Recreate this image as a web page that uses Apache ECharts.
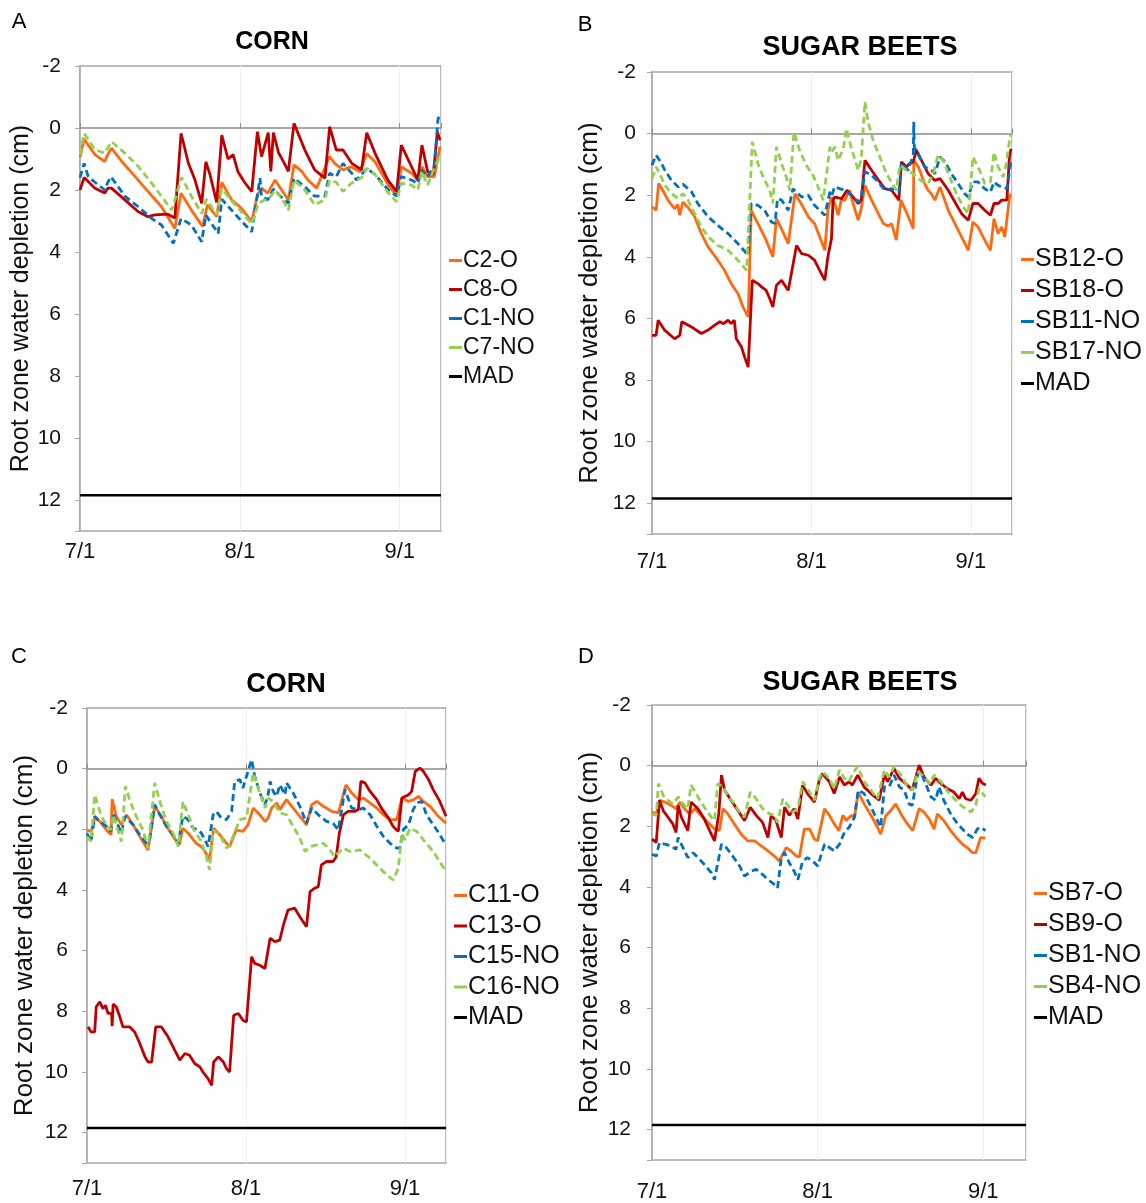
<!DOCTYPE html>
<html>
<head>
<meta charset="utf-8">
<title>Root zone water depletion</title>
<script src="https://cdn.jsdelivr.net/npm/echarts@6/dist/echarts.min.js"></script>
<style>
html,body{margin:0;padding:0;background:#fff;}
#chart{width:1146px;height:1203px;}
</style>
</head>
<body>
<div id="chart"></div>
<script>
// x = days after 7/1, y = root zone water depletion (cm)

// A - corn
var c2o = [[0,0.94],[0.8,0.36],[2.9,0.86],[4.8,1.08],[5.4,0.86],[6.1,0.65],[8.1,1.08],[10.7,1.57],[13.2,2.05],[15.8,2.54],[18.4,3.24],[19.6,2.1],[21.6,2.65],[23.8,3.18],[24.7,2.48],[26.5,2.86],[27.5,1.76],[29.4,2.32],[31.3,2.59],[33.3,3.02],[34.4,2.16],[35.2,1.94],[36.4,2.1],[37.8,1.68],[39.1,2.0],[40.4,2.32],[41.5,1.19],[43,1.4],[44.2,1.68],[45.9,1.94],[48.4,0.92],[49.4,1.14],[51,1.35],[52.5,1.25],[54.3,1.41],[55.6,0.82],[57.2,1.09],[59.8,1.84],[61.4,2.2],[62.3,1.25],[64.3,1.46],[65.5,1.68],[66.3,1.25],[67.4,1.57],[68.7,1.57],[69.8,0.6]];
var c8o = [[0,2.0],[0.8,1.6],[2.9,1.94],[4.8,2.1],[5.4,1.94],[6.1,1.94],[8.7,2.32],[11.3,2.7],[13.2,2.86],[14.5,2.8],[17,2.78],[18.4,2.9],[19.6,0.17],[21,1.13],[22.3,1.68],[23.6,2.43],[24.4,1.09],[25.2,1.5],[26.5,2.4],[27.5,0.23],[28.7,1.0],[29.7,0.86],[30.6,1.4],[31.9,1.75],[33.3,2.05],[34.4,0.12],[35.2,0.92],[36.5,0.15],[37.0,1.4],[37.5,0.15],[38.5,0.8],[39.5,1.1],[40.4,1.4],[41.5,-0.15],[43.6,0.71],[45.5,1.35],[47.5,1.62],[48.4,-0.04],[49.7,0.71],[51,0.71],[52.7,1.14],[54.6,1.35],[55.6,0.15],[57.2,0.81],[59.7,1.68],[61.4,2.05],[62.3,0.55],[64.3,1.25],[65.5,1.68],[66.3,0.55],[67.4,1.4],[68.5,1.5],[69.3,0.12],[69.8,0.4]];
var c1no = [[0,1.6],[0.8,1.14],[1.6,1.57],[2.9,1.75],[4.8,2.0],[5.4,1.75],[6.0,1.57],[8.7,2.2],[11.3,2.54],[13.9,2.92],[15.8,3.13],[18.1,3.72],[19.6,2.92],[21.6,3.13],[23.6,3.67],[24.4,2.81],[26.8,3.4],[27.5,2.3],[29.4,2.65],[31.3,3.0],[33.3,3.35],[34.9,1.62],[35.2,2.2],[36.4,2.32],[37.5,1.97],[38.9,2.2],[40.4,2.43],[41.5,1.62],[43.6,1.9],[45.5,2.2],[47.5,2.2],[48.4,1.46],[49.7,1.57],[51,1.14],[52.7,1.46],[53.6,1.68],[54.6,1.5],[55.6,1.3],[57.2,1.5],[59.8,2.0],[61.4,2.2],[62.3,1.57],[64.3,1.68],[65.5,1.79],[66.3,1.35],[67.4,1.57],[68.7,1.25],[69.4,-0.26],[69.8,-0.48]];
var c7no = [[0,0.86],[0.8,0.17],[2.9,0.7],[4.8,0.81],[6.1,0.44],[8.7,0.81],[11.3,1.24],[13.9,1.78],[15.8,2.2],[17.8,2.65],[19.7,1.59],[21.6,2.2],[23.6,2.76],[24.5,2.3],[26.5,2.8],[27.5,1.95],[29.4,2.35],[31.3,2.7],[33.3,3.1],[34.6,2.43],[35.5,2.35],[37,2.2],[37.8,2.0],[39.1,2.25],[40.4,2.65],[41.5,1.68],[43.6,2.0],[45.5,2.48],[47.5,2.3],[48.4,1.68],[49.7,1.75],[51,2.05],[52.5,1.8],[54.6,1.6],[55.6,1.3],[57.2,1.5],[59.8,2.1],[61.4,2.38],[62.3,1.78],[64.3,1.84],[65.5,2.0],[66.3,1.4],[67.4,1.84],[68.7,1.3],[69.8,0.92]];

// B - sugar beets
var sb12o = [[0,2.38],[0.8,2.49],[1.3,1.62],[2.1,1.84],[3.1,2.16],[4.4,2.44],[5.0,2.3],[5.4,2.65],[6.0,2.22],[7.0,2.4],[8.3,2.7],[9.6,3.25],[10.9,3.68],[12.8,4.11],[14.1,4.44],[15.4,4.87],[16.7,5.19],[17.7,5.63],[18.7,5.95],[19.3,2.49],[20.6,2.92],[21.9,3.35],[23.5,4.0],[24.2,2.76],[25.2,3.1],[26.5,3.57],[27.8,1.95],[29.1,2.3],[30.4,2.7],[31.6,2.92],[32.6,3.35],[33.6,3.79],[34.2,2.49],[34.9,2.06],[35.6,2.3],[36.2,2.65],[36.8,2.16],[37.5,2.16],[38.4,1.84],[39.1,2.27],[40.1,2.81],[40.7,2.42],[41.4,1.68],[42.7,2.16],[44.0,2.6],[45,2.92],[45.9,3.0],[46.6,2.92],[47.5,3.46],[48.4,2.16],[49.6,2.6],[50.8,3.08],[50.9,0.87],[51.8,1.08],[53.0,1.62],[53.7,1.84],[54.3,1.95],[55.0,2.16],[56.0,1.73],[57.6,2.49],[58.9,2.92],[60.2,3.35],[61.5,3.79],[62.4,2.87],[63.4,3.03],[64.7,3.46],[65.8,3.79],[66.5,2.76],[67.3,3.25],[68.0,3.03],[68.6,3.35],[69.6,1.95]];
var sb18o = [[0,6.55],[0.8,6.55],[1.2,6.06],[2.5,6.39],[4.4,6.66],[5.4,6.55],[5.8,6.11],[7.7,6.28],[9.6,6.49],[10.9,6.38],[12.2,6.22],[13.2,6.11],[13.9,6.17],[14.8,6.06],[15.4,6.17],[16.0,6.06],[16.4,6.66],[17.4,6.93],[18.0,7.25],[18.7,7.58],[19.5,4.76],[20.6,4.87],[21.3,4.98],[22.2,5.09],[22.9,5.36],[23.5,5.63],[24.2,4.92],[25.2,4.76],[25.8,4.92],[26.5,5.09],[28.1,3.63],[29.1,3.9],[30.4,3.95],[31.6,4.11],[32.6,4.44],[33.6,4.76],[34.2,4.0],[34.9,3.41],[35.2,2.16],[35.5,2.06],[36.9,2.11],[37.9,1.84],[38.8,2.0],[40.1,2.27],[40.7,2.16],[41.4,0.87],[42.7,1.19],[44.0,1.5],[45.3,1.79],[46.6,1.84],[48.0,2.16],[48.5,0.92],[49.5,1.08],[50.1,0.97],[50.8,0.92],[51.4,0.54],[52.4,0.87],[53.7,1.3],[55.0,1.52],[56.0,1.46],[57.6,1.84],[58.9,2.22],[60.2,2.6],[61.5,2.81],[62.4,2.27],[63.4,2.27],[64.7,2.49],[65.8,2.65],[66.5,2.27],[67.3,2.27],[68.0,2.16],[69.0,2.16],[69.5,0.76],[69.8,0.49]];
var sb11no = [[0,1.03],[0.8,0.7],[1.8,0.95],[2.5,1.19],[3.8,1.52],[5.1,1.73],[6.0,1.64],[7.7,1.89],[8.9,2.27],[10.9,2.7],[12.8,2.98],[14.8,3.25],[16.7,3.57],[18.7,3.95],[19.3,2.27],[20.6,2.33],[21.9,2.49],[23.2,2.87],[23.9,2.92],[24.4,2.11],[25.2,2.16],[26.5,2.49],[27.4,1.79],[29.1,2.06],[30.4,2.0],[31.6,2.33],[33.6,2.65],[34.6,1.89],[35.0,2.0],[35.5,1.73],[37.5,1.84],[38.8,2.0],[40.1,2.22],[40.7,2.06],[41.4,1.24],[42.7,1.35],[44.0,1.57],[45.3,1.84],[46.6,1.79],[48.0,1.89],[48.5,0.97],[49.8,1.19],[50.8,0.7],[50.9,-0.38],[51.0,0.43],[52.0,0.76],[53.0,1.08],[54.3,1.19],[55.0,1.3],[56.0,0.76],[57.0,0.92],[58.2,1.3],[59.5,1.62],[60.8,1.95],[61.5,2.06],[62.4,1.57],[63.4,1.57],[64.7,1.79],[65.8,1.9],[66.5,1.57],[67.3,1.68],[69.0,1.79],[69.6,1.14],[69.8,0.87]];
var sb17no = [[0,1.46],[0.8,1.08],[1.8,1.41],[2.5,1.68],[3.8,1.95],[5.1,2.11],[6.0,1.95],[7.0,2.16],[8.3,2.6],[9.6,3.03],[10.9,3.35],[12.8,3.63],[14.8,3.79],[16.7,4.11],[18.4,4.44],[19.5,0.27],[20.6,0.97],[21.6,1.41],[22.9,1.84],[23.5,2.27],[24.2,0.43],[25.2,0.97],[26.1,1.41],[26.8,1.84],[27.6,-0.05],[28.7,0.54],[30.0,1.03],[31.3,1.35],[32.3,1.73],[33.3,2.16],[34.6,0.43],[34.9,0.6],[35.6,0.43],[36.2,0.87],[37.2,0.49],[37.8,-0.16],[38.8,0.49],[40.1,1.19],[40.7,0.8],[41.4,-1.03],[42,-0.38],[43,0.22],[44.3,0.76],[45.6,1.3],[46.9,1.68],[47.5,1.84],[48.2,1.03],[49.5,1.19],[50.8,1.3],[51.8,1.46],[52.7,1.57],[53.7,1.62],[54.7,1.3],[55.6,0.7],[56.6,0.87],[57.9,1.41],[59.2,1.95],[60.5,2.38],[61.5,2.6],[62.4,0.76],[63.7,1.19],[64.7,1.62],[65.8,1.57],[66.5,0.6],[67.3,1.08],[68.3,1.41],[68.9,0.97],[69.6,0.11],[69.8,0.0]];

// C - corn
var c11o = [[0,2.02],[0.8,2.07],[1.5,1.63],[2.5,1.74],[3.8,2.02],[4.7,2.18],[4.9,1.0],[5.7,1.57],[6.7,1.85],[7.7,1.52],[9.0,1.85],[10.3,2.24],[11.9,2.68],[13.2,1.24],[14.5,1.57],[15.5,1.9],[16.8,2.24],[18.0,2.51],[18.7,1.96],[20.0,2.18],[21.3,2.46],[22.3,2.57],[23.0,2.73],[23.9,3.0],[24.7,1.96],[25.9,2.18],[27.2,2.46],[27.8,2.57],[29.1,2.02],[30.4,2.07],[31.4,1.85],[32.4,1.3],[33.7,1.52],[34.7,1.74],[35.3,1.63],[36.0,1.3],[37.0,1.13],[37.6,1.35],[38.9,1.02],[40.2,1.3],[41.5,1.57],[42.8,1.85],[43.8,1.19],[44.8,1.08],[46.1,1.24],[47.7,1.41],[49.0,1.46],[50.5,0.53],[51.6,0.8],[52.9,1.02],[53.9,0.97],[55.2,1.13],[56.5,1.3],[57.8,1.52],[59.1,1.68],[60.4,1.68],[61.4,0.97],[62.7,1.08],[63.7,1.02],[64.6,0.91],[65.6,1.08],[66.9,1.24],[68.5,1.57],[70,1.8]];
var c13o = [[0.2,8.51],[0.8,8.68],[1.5,8.68],[1.8,7.85],[2.5,7.69],[3.1,7.91],[3.6,7.8],[4.1,8.07],[4.8,8.07],[4.9,8.49],[5.1,7.76],[5.7,7.85],[6.4,8.18],[7.0,8.51],[8.3,8.51],[9.3,8.68],[10.3,9.06],[11.3,9.5],[11.9,9.67],[12.6,9.67],[13.4,8.51],[14.5,8.51],[15.8,8.84],[17.1,9.28],[18.1,9.61],[19.1,9.39],[20.0,9.45],[21.0,9.72],[22.0,9.83],[22.6,10.0],[23.6,10.22],[24.3,10.44],[24.7,9.67],[25.6,9.5],[26.6,9.67],[27.2,9.89],[27.8,10.0],[28.6,8.13],[29.5,8.07],[30.4,8.29],[31.1,8.35],[32.1,6.2],[32.7,6.42],[33.7,6.48],[34.7,6.59],[35.7,5.59],[36.6,5.7],[37.6,5.65],[38.3,5.15],[39.2,4.66],[40.5,4.6],[41.5,4.88],[42.8,5.21],[43.5,4.05],[44.4,3.94],[45.1,3.89],[45.7,3.17],[46.7,3.06],[48.0,3.06],[48.6,2.9],[49.2,2.13],[50.0,1.52],[50.9,1.41],[52.2,1.41],[52.9,1.35],[53.4,0.42],[54.2,0.47],[55.2,0.75],[56.5,1.02],[57.4,1.3],[58.8,1.63],[59.7,1.91],[60.7,2.07],[61.4,0.97],[62.7,0.86],[63.3,0.75],[64.0,0.09],[64.9,-0.02],[65.6,0.09],[66.6,0.36],[67.5,0.69],[68.8,1.08],[70,1.57]];
var c15no = [[0,2.13],[0.8,2.4],[1.5,1.57],[2.5,1.74],[3.8,1.9],[4.7,2.07],[5.1,1.46],[6.0,1.85],[6.7,2.13],[7.4,1.57],[9.0,1.85],[10.3,2.18],[11.6,2.46],[12.2,2.35],[13.2,1.19],[14.2,1.52],[15.5,1.9],[16.8,2.18],[17.8,2.46],[18.7,1.57],[19.7,1.68],[20.7,1.96],[21.7,2.02],[22.3,2.13],[23.0,2.35],[23.6,2.57],[24.6,1.52],[25.2,1.41],[26.2,1.63],[27.2,1.68],[28.2,1.41],[28.8,0.42],[29.8,0.36],[30.4,0.64],[32.1,-0.3],[32.7,0.25],[33.7,0.8],[34.7,1.19],[35.3,0.86],[35.7,0.42],[36.3,0.75],[37.0,0.91],[37.6,0.53],[38.6,0.86],[38.9,0.47],[40.2,0.8],[41.5,1.24],[42.8,1.8],[43.8,1.3],[45.1,1.52],[46.7,1.74],[48.0,1.8],[49.0,2.02],[50.3,0.69],[51.6,1.3],[52.9,1.35],[53.9,1.3],[55.2,1.52],[56.5,1.9],[57.8,2.24],[59.1,2.46],[60.4,2.62],[61.0,2.62],[61.7,2.0],[62.7,1.85],[63.6,1.35],[64.3,1.13],[65.3,1.08],[66.2,1.52],[68.2,2.02],[69.8,2.46]];
var c16no = [[0,2.24],[0.8,2.4],[1.5,0.86],[2.1,1.19],[2.8,1.57],[3.8,1.85],[4.7,2.02],[5.1,1.52],[5.7,1.85],[6.7,2.4],[7.5,0.58],[8.3,1.02],[9.6,1.57],[10.9,2.02],[11.9,2.62],[13.2,0.47],[14.2,1.08],[15.5,1.74],[16.8,2.13],[17.8,2.57],[18.7,1.08],[19.7,1.52],[21.0,2.07],[22.3,2.4],[23.3,2.9],[23.9,3.34],[24.6,2.02],[25.9,2.18],[27.2,2.62],[27.8,2.51],[29.8,1.68],[31.1,1.63],[32.4,0.14],[33.7,0.8],[34.7,1.3],[35.3,0.97],[36.3,1.08],[37.6,1.46],[38.9,1.52],[40.2,1.9],[41.5,2.29],[42.5,2.73],[43.5,2.57],[44.8,2.51],[46.1,2.46],[47.4,2.68],[48.3,2.9],[50.0,2.62],[51.3,2.73],[53.2,2.68],[55.2,2.95],[57.1,3.28],[58.4,3.5],[59.7,3.67],[60.7,3.28],[61.4,2.13],[62.0,2.35],[63.0,1.96],[64.3,2.07],[65.6,2.35],[67.5,2.73],[70,3.39]];

// D - sugar beets
var sb7o = [[0,1.53],[0.8,1.59],[1.4,1.14],[2.4,1.2],[3.6,1.31],[4.5,1.42],[5.2,1.2],[6.1,1.42],[7.0,1.59],[8.0,1.42],[9.2,1.64],[10.5,1.87],[11.7,2.09],[12.6,2.14],[13.3,1.42],[14.2,1.59],[15.4,1.92],[16.7,2.26],[17.9,2.48],[19.2,2.48],[20.4,2.64],[21.7,2.81],[22.9,2.98],[23.8,3.14],[24.5,2.92],[25.1,2.7],[26.0,2.81],[27.0,2.98],[27.6,3.01],[28.5,2.09],[29.5,2.09],[30.4,2.42],[31.0,2.48],[32.3,1.42],[33.2,1.64],[34.1,1.92],[35.0,2.14],[35.7,1.64],[36.4,1.81],[37.3,1.64],[37.9,1.7],[38.6,0.87],[39.7,1.26],[41.0,1.64],[42.2,2.03],[42.8,2.26],[43.8,1.64],[44.7,1.48],[45.6,1.26],[46.6,1.59],[47.8,1.92],[48.8,2.14],[50.0,1.42],[50.9,1.53],[51.9,1.76],[52.8,2.09],[53.4,1.59],[54.6,1.81],[55.9,2.14],[57.2,2.42],[58.1,2.59],[59.0,2.7],[60.0,2.87],[60.6,2.87],[61.5,2.37],[62.4,2.39]];
var sb9o = [[0,2.42],[0.8,2.53],[1.4,1.14],[2.1,1.48],[3.0,1.7],[3.9,1.92],[4.5,2.2],[4.9,1.31],[5.5,1.7],[6.4,2.03],[6.7,2.14],[7.3,1.2],[8.6,1.42],[9.8,1.76],[11.1,2.26],[11.7,2.48],[12.5,1.59],[13.0,0.31],[13.6,0.81],[14.8,1.14],[16.1,1.48],[17.3,1.81],[18.4,1.37],[19.5,1.64],[20.7,1.87],[21.7,2.37],[22.3,1.64],[23.2,1.81],[24.2,2.37],[24.8,1.37],[25.7,1.64],[26.6,1.42],[27.3,1.76],[28.2,0.64],[29.1,0.92],[30.4,1.2],[31.3,0.48],[31.9,0.26],[33.2,0.53],[34.1,0.92],[35.1,0.37],[36.0,0.64],[36.9,0.53],[37.5,0.64],[38.5,0.31],[39.7,0.7],[41.0,0.92],[42.5,1.14],[43.5,0.31],[44.1,0.53],[45.3,0.09],[46.3,0.42],[47.5,0.59],[48.7,0.81],[50.0,-0.02],[50.9,0.37],[52.2,0.64],[53.1,0.42],[54.1,0.59],[55.3,0.76],[56.5,0.87],[57.5,1.09],[58.1,0.87],[58.7,1.09],[59.7,1.14],[60.6,0.92],[61.2,0.42],[61.9,0.59],[62.5,0.64]];
var sb1no = [[0,2.92],[0.8,2.98],[1.4,2.53],[2.4,2.59],[3.6,2.64],[4.5,2.76],[4.9,2.37],[5.8,2.7],[6.7,3.03],[7.7,2.87],[8.6,3.03],[9.8,3.26],[11.1,3.53],[11.7,3.76],[13.0,2.59],[13.9,2.7],[15.1,2.98],[16.4,3.31],[17.3,3.64],[18.6,3.48],[19.5,3.42],[20.7,3.59],[21.7,3.76],[22.6,3.87],[23.5,4.03],[24.2,3.03],[24.8,2.87],[25.7,3.2],[26.6,3.48],[27.3,3.76],[28.2,3.14],[29.1,3.03],[30.4,3.2],[31.0,3.31],[32.3,2.59],[33.2,2.7],[34.1,2.81],[35.1,2.59],[36.0,2.2],[36.9,2.03],[37.9,1.7],[38.6,0.81],[39.7,0.92],[40.7,1.26],[41.9,1.7],[42.8,2.03],[43.5,0.7],[44.4,0.7],[45.3,0.31],[46.3,0.7],[47.2,0.81],[48.1,1.26],[48.7,1.31],[49.7,0.31],[50.3,0.2],[51.2,0.59],[52.2,1.03],[53.1,1.14],[53.7,0.7],[54.6,1.14],[55.9,1.59],[57.2,1.92],[58.1,2.09],[59.0,2.26],[60.0,2.37],[60.9,2.09],[61.5,2.03],[62.4,2.14]];
var sb4no = [[0,1.59],[0.8,1.64],[1.2,0.59],[2.1,0.98],[3.0,1.14],[3.9,1.26],[4.9,1.03],[5.8,1.26],[6.7,1.42],[7.3,0.64],[8.6,1.03],[9.8,1.37],[11.1,1.7],[11.7,1.81],[12.3,0.59],[13.3,0.7],[14.2,0.98],[15.4,1.26],[16.4,1.53],[17.3,1.7],[18.4,0.87],[19.5,1.09],[20.7,1.42],[22.0,1.59],[22.9,1.64],[23.5,1.87],[24.5,1.09],[25.4,1.31],[26.3,1.53],[27.3,1.42],[28.2,0.53],[29.1,0.76],[30.4,1.14],[31.3,0.42],[31.9,0.2],[33.2,0.42],[34.1,0.76],[35.1,0.14],[36.0,0.42],[36.9,0.53],[37.5,0.26],[38.5,0.03],[39.7,0.53],[41.0,0.81],[42.2,1.09],[43.5,0.14],[44.4,0.37],[45.3,0.03],[46.6,0.31],[47.5,0.59],[48.8,0.81],[49.7,0.2],[50.6,0.31],[52.0,0.59],[52.8,0.31],[54.1,0.53],[55.6,0.92],[56.9,1.14],[57.8,1.31],[58.7,1.42],[59.7,1.53],[60.6,1.31],[61.2,0.76],[61.9,0.92],[62.4,1.03]];

// MAD line and axis labels
var madLevel = 11.85;
var madDays = [0, 70];
var tickDays = [0, 31, 62];
var tickLabels = ['7/1', '8/1', '9/1'];
var yTicks = [-2, 0, 2, 4, 6, 8, 10, 12];

var colors = ['#ff6a10', '#c00000', '#0070c0', '#92d050'];
var font = '"Liberation Sans", Arial, sans-serif';

var panels = [
    {letter:'A', title:'CORN', names:['C2-O','C8-O','C1-NO','C7-NO'], series:[c2o,c8o,c1no,c7no],
     grid:{left:80, top:66, width:361, height:465}, titleAt:[272,42], titleSize:25, letterAt:[19,22],
     legendAt:[444,244], legendSize:23, legendGap:6, nameSize:25, nameGap:45, xMargin:10, yMargin:19},
    {letter:'B', title:'SUGAR BEETS', names:['SB12-O','SB18-O','SB11-NO','SB17-NO'], series:[sb12o,sb18o,sb11no,sb17no],
     grid:{left:652, top:72, width:360, height:462}, titleAt:[860,48], titleSize:27, letterAt:[585,25],
     legendAt:[1016,242], legendSize:25, legendGap:6, nameSize:26, nameGap:49, xMargin:17, yMargin:16},
    {letter:'C', title:'CORN', names:['C11-O','C13-O','C15-NO','C16-NO'], series:[c11o,c13o,c15no,c16no],
     grid:{left:87, top:708, width:359, height:455}, titleAt:[286,685], titleSize:27, letterAt:[19,657],
     legendAt:[449,878], legendSize:25, legendGap:5.5, nameSize:26, nameGap:49, xMargin:15, yMargin:19},
    {letter:'D', title:'SUGAR BEETS', names:['SB7-O','SB9-O','SB1-NO','SB4-NO'], series:[sb7o,sb9o,sb1no,sb4no],
     grid:{left:652, top:705, width:374, height:457}, titleAt:[860,683], titleSize:27, letterAt:[586,657],
     legendAt:[1029,876], legendSize:25, legendGap:6, nameSize:26, nameGap:49, xMargin:21, yMargin:21}
];

function dayLabel(v){
    var i = tickDays.indexOf(v);
    return i >= 0 ? tickLabels[i] : '';
}
function depthLabel(v){
    return yTicks.indexOf(v) >= 0 ? String(v) : '';
}

var option = {
    animation: false,
    backgroundColor: '#fff',
    textStyle: {fontFamily: font},
    grid: [], xAxis: [], yAxis: [], legend: [], series: [], graphic: []
};

panels.forEach(function(p, i){
    var g = p.grid;
    option.grid.push({left:g.left, top:g.top, width:g.width, height:g.height, show:true,
        borderColor:'#a6a6a6', borderWidth:1.5, backgroundColor:'#fff'});

    // labels at the bottom edge
    option.xAxis.push({type:'value', gridIndex:i, min:0, max:70, interval:31, position:'bottom',
        axisLine:{show:false, onZero:false}, axisTick:{show:false},
        splitLine:{show:true, lineStyle:{color:'#efefef', width:1}},
        axisLabel:{fontSize:22, color:'#111', margin:p.xMargin, formatter:dayLabel}});
    // the zero line with its ticks
    option.xAxis.push({type:'value', gridIndex:i, min:0, max:70, interval:31, position:'bottom',
        axisLine:{show:true, onZero:true, lineStyle:{color:'#8c8c8c', width:1.5}},
        axisTick:{show:true, inside:true, length:5, lineStyle:{color:'#8c8c8c'}},
        axisLabel:{show:false}, splitLine:{show:false}});

    option.yAxis.push({type:'value', gridIndex:i, min:-2, max:13, interval:2, inverse:true,
        axisLine:{show:true, onZero:false, lineStyle:{color:'#a6a6a6', width:1.5}},
        axisTick:{show:true, length:5, lineStyle:{color:'#a6a6a6'}},
        axisLabel:{fontSize:21, color:'#111', margin:p.yMargin, formatter:depthLabel},
        splitLine:{show:false},
        name:'Root zone water depletion (cm)', nameLocation:'middle', nameRotate:90, nameGap:p.nameGap,
        nameTextStyle:{fontSize:p.nameSize, color:'#111'}});

    p.names.forEach(function(n, k){
        option.series.push({type:'line', name:n, xAxisIndex:2*i, yAxisIndex:i, data:p.series[k],
            symbol:'none', showSymbol:false, z:3+k,
            lineStyle:{color:colors[k], width:2.8, type:(k >= 2 ? [7,4] : 'solid')},
            itemStyle:{color:colors[k]}});
    });
    option.series.push({type:'line', name:'MAD', xAxisIndex:2*i, yAxisIndex:i,
        data:madDays.map(function(d){ return [d, madLevel]; }),
        symbol:'none', showSymbol:false, z:2,
        lineStyle:{color:'#000', width:2.5}, itemStyle:{color:'#000'}});

    option.legend.push({orient:'vertical', left:p.legendAt[0], top:p.legendAt[1],
        data:p.names.concat(['MAD']), icon:'rect', itemWidth:13, itemHeight:3, itemGap:p.legendGap,
        selectedMode:false, textStyle:{fontSize:p.legendSize, color:'#111', padding:[0,0,0,-4]}});

    option.graphic.push({type:'text', x:p.titleAt[0], y:p.titleAt[1],
        style:{text:p.title, font:'bold ' + p.titleSize + 'px ' + font, fill:'#000', align:'center', verticalAlign:'middle'}});
    option.graphic.push({type:'text', x:p.letterAt[0], y:p.letterAt[1],
        style:{text:p.letter, font:'22px ' + font, fill:'#000', align:'center', verticalAlign:'middle'}});
});

var chart = echarts.init(document.getElementById('chart'));
chart.setOption(option);
</script>
</body>
</html>
